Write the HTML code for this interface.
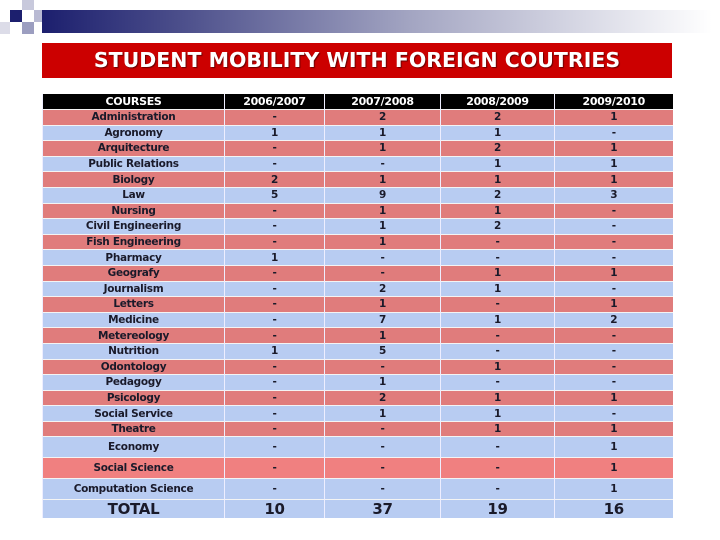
<!DOCTYPE html>
<html><head><meta charset="utf-8"><style>
body{margin:0;width:720px;height:540px;background:#fff;position:relative;overflow:hidden;font-family:"DejaVu Sans","Liberation Sans",sans-serif}
.sq{position:absolute}
#bar{position:absolute;left:42px;top:10px;width:670px;height:23px;background:linear-gradient(to right,#1c1f6e 0%,#4a4d8a 20%,#a3a5c2 55%,#fff 100%)}
#title{position:absolute;left:42px;top:43px;width:630px;height:35px;background:#cc0000;color:#fff;font-weight:bold;font-size:20.5px;line-height:35px;text-align:center;text-shadow:1px 1px 1px #600}
table{position:absolute;left:42px;top:94px;border-collapse:collapse;table-layout:fixed;width:630px}
td{padding:0;text-align:center;font-weight:bold;font-size:10.5px;color:#1a1a2a;border-left:1px solid #eef;border-top:1px solid #f4f4f4;line-height:14px;white-space:nowrap;overflow:hidden;letter-spacing:-0.3px}
tr.h td{background:#000;color:#fff;height:15px;border-top:none}
tr.p td{background:#e07c7c}
tr.b td{background:#b8ccf2}
tr.pp td{background:#f08080}
</style></head><body>
<div class="sq" style="left:10px;top:10px;width:12px;height:12px;background:#1c1f6e"></div>
<div class="sq" style="left:22px;top:0;width:12px;height:10px;background:#c8c9dc"></div>
<div class="sq" style="left:34px;top:10px;width:12px;height:12px;background:#b9bad3"></div>
<div class="sq" style="left:22px;top:22px;width:12px;height:12px;background:#9c9ec0"></div>
<div class="sq" style="left:0;top:22px;width:10px;height:12px;background:#dcdce8"></div>
<div id="bar"></div>
<div id="title">STUDENT MOBILITY WITH FOREIGN COUTRIES</div>
<table>
<colgroup><col style="width:182px"><col style="width:100px"><col style="width:116px"><col style="width:114px"><col style="width:118px"></colgroup>
<tbody id="tb"></tbody></table>
<script>
const courses=["Administration","Agronomy","Arquitecture","Public Relations","Biology","Law","Nursing","Civil Engineering","Fish Engineering","Pharmacy","Geografy","Journalism","Letters","Medicine","Metereology","Nutrition","Odontology","Pedagogy","Psicology","Social Service","Theatre","Economy","Social Science","Computation Science"];
const y0607=["-","1","-","-","2","5","-","-","-","1","-","-","-","-","-","1","-","-","-","-","-","-","-","-"];
const y0708=["2","1","1","-","1","9","1","1","1","-","-","2","1","7","1","5","-","1","2","1","-","-","-","-"];
const y0809=["2","1","2","1","1","2","1","2","-","-","1","1","-","1","-","-","1","-","1","1","1","-","-","-"];
const y0910=["1","-","1","1","1","3","-","-","-","-","1","-","1","2","-","-","-","-","1","-","1","1","1","1"];
const totals=["10","37","19","16"];
const headers=["COURSES","2006/2007","2007/2008","2008/2009","2009/2010"];
const tb=document.getElementById('tb');
function row(cells,cls,h,fs){const tr=document.createElement('tr');tr.className=cls;


cells.forEach(c=>{const td=document.createElement('td');td.textContent=c;td.style.height=h+'px';if(fs)td.style.fontSize=fs+'px';


tr.appendChild(td);});tb.appendChild(tr);}
row(headers,'h',15,11);
courses.forEach((c,i)=>{const cls=i<21?(i%2?'b':'p'):(i===22?'pp':'b');const h=i<21?14.6:20;row([c,y0607[i],y0708[i],y0809[i],y0910[i]],cls,h);});
row(["TOTAL"].concat(totals),'b',18,15);
</script>
</body></html>
